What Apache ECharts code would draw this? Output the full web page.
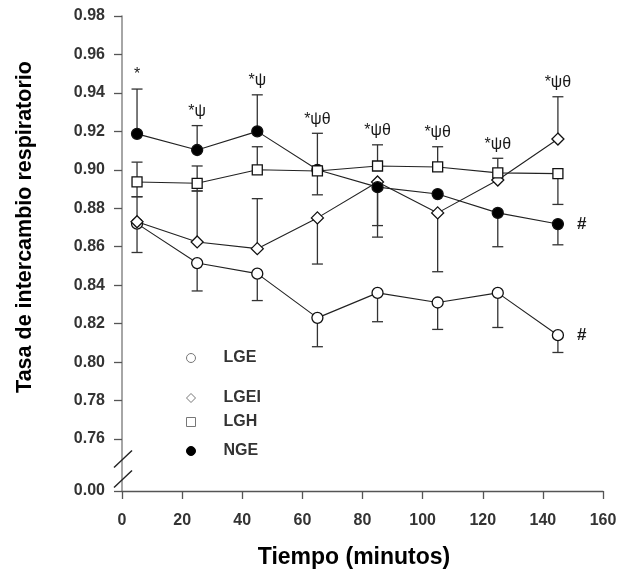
<!DOCTYPE html>
<html><head><meta charset="utf-8">
<script src="https://cdn.jsdelivr.net/npm/echarts@6/dist/echarts.min.js"></script>
<style>html,body{margin:0;padding:0;background:#fff}#c{width:620px;height:579px}</style>
</head><body><div id="c"></div>
<script>
// ---- data ----
const times = [5, 25, 45, 65, 85, 105, 125, 145];
const xTicks = [0, 20, 40, 60, 80, 100, 120, 140, 160];
const yTicks = [0.76, 0.78, 0.80, 0.82, 0.84, 0.86, 0.88, 0.90, 0.92, 0.94, 0.96, 0.98];
const yBreakLabel = '0.00';

const LGE    = [0.872, 0.8515, 0.846, 0.823, 0.836, 0.831, 0.836, 0.814];
const LGE_lo = [0.857, 0.837, 0.832, 0.808, 0.821, 0.817, 0.818, 0.805];
const LGE_hi = [null, null, null, null, null, null, null, null];

const LGEI    = [0.873, 0.8625, 0.859, 0.875, 0.8937, 0.8776, 0.8947, 0.916];
const LGEI_lo = [null, null, null, 0.851, 0.865, 0.847, null, null];
const LGEI_hi = [0.886, 0.889, 0.885, null, null, null, null, 0.938];

const LGH    = [0.8937, 0.893, 0.900, 0.8994, 0.902, 0.9015, 0.8984, 0.898];
const LGH_lo = [0.886, 0.889, null, 0.887, null, null, null, 0.882];
const LGH_hi = [0.904, 0.902, 0.912, null, 0.913, 0.912, 0.906, null];

const NGE    = [0.9187, 0.9103, 0.920, 0.900, 0.891, 0.8874, 0.8776, 0.8718];
const NGE_lo = [null, null, null, null, 0.871, null, 0.860, 0.861];
const NGE_hi = [0.942, 0.923, 0.939, 0.919, null, null, null, null];

const annotations = ['*', '*\u03C8', '*\u03C8', '*\u03C8\u03B8', '*\u03C8\u03B8', '*\u03C8\u03B8', '*\u03C8\u03B8', '*\u03C8\u03B8'];
const endNotes = { LGE: '#', NGE: '#' };
const legendOrder = ['LGE', 'LGEI', 'LGH', 'NGE'];
const xTitle = 'Tiempo (minutos)';
const yTitle = 'Tasa de intercambio respiratorio';

// ---- chart ----
const Y_MIN = 0.73296; // axis position shown as the broken "0.00"
const FONT = 'Arial, "Liberation Sans", sans-serif';
const INK = '#1a1a1a';
const LABEL_INK = '#333';

const groups = [
  { name: 'LGE', v: LGE, lo: LGE_lo, hi: LGE_hi, symbol: 'circle', size: 11, fill: '#fff' },
  { name: 'LGEI', v: LGEI, lo: LGEI_lo, hi: LGEI_hi, symbol: 'diamond', size: 12, fill: '#fff' },
  { name: 'NGE', v: NGE, lo: NGE_lo, hi: NGE_hi, symbol: 'circle', size: 11, fill: '#000' },
  { name: 'LGH', v: LGH, lo: LGH_lo, hi: LGH_hi, symbol: 'rect', size: 10, fill: '#fff' }
];

function errRender(params, api) {
  const x = api.value(0), y = api.value(1);
  const c = api.coord([x, y]);
  const cap = 5.5;
  const children = [];
  [api.value(2), api.value(3)].forEach(v => {
    if (v == null || isNaN(v) || Math.abs(v - y) < 1e-9) return;
    const p = api.coord([x, v]);
    children.push({ type: 'line', shape: { x1: c[0], y1: c[1], x2: p[0], y2: p[1] }, style: { stroke: '#333', lineWidth: 1.3 } });
    children.push({ type: 'line', shape: { x1: p[0] - cap, y1: p[1], x2: p[0] + cap, y2: p[1] }, style: { stroke: '#333', lineWidth: 1.3 } });
  });
  return { type: 'group', children };
}

const series = [];
groups.forEach(g => {
  series.push({
    type: 'custom', name: g.name + ' err', z: 1, silent: true,
    renderItem: errRender,
    data: times.map((t, i) => [t, g.v[i], g.lo[i] == null ? g.v[i] : g.lo[i], g.hi[i] == null ? g.v[i] : g.hi[i]])
  });
});
groups.forEach(g => {
  const data = times.map((t, i) => [t, g.v[i]]);
  if (endNotes[g.name]) {
    const last = data.length - 1;
    data[last] = {
      value: data[last],
      label: { show: true, formatter: endNotes[g.name], position: 'right', distance: 13, fontSize: 17, fontWeight: 'bold', color: INK, fontFamily: FONT }
    };
  }
  series.push({
    type: 'line', name: g.name, z: 3, data,
    symbol: g.symbol, symbolSize: g.size, showAllSymbol: true,
    lineStyle: { color: '#222', width: 1.1 },
    itemStyle: { color: g.fill, borderColor: '#111', borderWidth: 1.3 },
    emphasis: { disabled: true }
  });
});

// annotation above the highest error bar of each time point
const tops = times.map((t, i) => Math.max(...groups.map(g => Math.max(g.v[i], g.hi[i] == null ? -1 : g.hi[i]))));
series.push({
  type: 'custom', name: 'annot', z: 4, silent: true,
  renderItem: (params, api) => {
    const p = api.coord([api.value(0), api.value(1)]);
    return { type: 'text', x: p[0], y: p[1] - 6,
      style: { text: annotations[params.dataIndex], align: 'center', verticalAlign: 'bottom', fontSize: 16, fontFamily: FONT, fill: INK } };
  },
  data: times.map((t, i) => [t, tops[i]])
});

const legendTops = [345, 385, 409, 438];
const legendIcons = ['circle', 'diamond', 'rect', 'circle'];
const legendFill = ['#fff', '#fff', '#fff', '#000'];
const legends = legendOrder.map((n, i) => ({
  data: [{ name: n, icon: legendIcons[i], itemStyle: { color: legendFill[i], borderColor: legendFill[i] === '#000' ? '#000' : '#777', borderWidth: 1 } }],
  left: 181, top: legendTops[i], itemWidth: 9, itemHeight: 9, selectedMode: false,
  textStyle: { fontSize: 16, fontWeight: 'bold', color: LABEL_INK, fontFamily: FONT, padding: [0, 0, 0, 23] }
}));

const chart = echarts.init(document.getElementById('c'), null, { renderer: 'canvas' });
chart.setOption({
  animation: false,
  backgroundColor: '#fff',
  grid: { left: 122, right: 17, top: 16, bottom: 88, outerBoundsMode: 'none' },
  legend: legends,
  xAxis: {
    type: 'value', min: 0, max: 160, interval: 20,
    name: xTitle, nameLocation: 'middle', nameGap: 55,
    nameTextStyle: { fontSize: 23, fontWeight: 'bold', color: '#000', fontFamily: FONT, padding: [0, 17, 0, 0] },
    axisLine: { show: true, lineStyle: { color: '#555', width: 1.3 } },
    axisTick: { show: true, length: 8, inside: false, lineStyle: { color: '#555', width: 1.3 } },
    axisLabel: { fontSize: 16, fontWeight: 'bold', color: LABEL_INK, margin: 22, fontFamily: FONT },
    splitLine: { show: false }
  },
  yAxis: {
    type: 'value', min: Y_MIN, max: 0.98,
    axisLine: { show: true, lineStyle: { color: '#888', width: 1.5 } },
    axisTick: { show: true, length: 8, customValues: [Y_MIN].concat(yTicks), lineStyle: { color: '#555', width: 1.3 } },
    axisLabel: { fontSize: 16, fontWeight: 'bold', color: LABEL_INK, margin: 17, fontFamily: FONT,
      customValues: [Y_MIN].concat(yTicks),
      formatter: v => v < yTicks[0] - 0.005 ? yBreakLabel : v.toFixed(2) },
    splitLine: { show: false }
  },
  series
});

// axis break marks + rotated y-axis title, positioned from the axis scales
const p076 = chart.convertToPixel({ gridIndex: 0 }, [0, yTicks[0]]);
const pMin = chart.convertToPixel({ gridIndex: 0 }, [0, Y_MIN]);
const slash = (cx, cy) => ({ type: 'line', shape: { x1: cx - 9, y1: cy + 8.5, x2: cx + 9, y2: cy - 8.5 }, style: { stroke: '#222', lineWidth: 1.4 }, z: 10 });
chart.setOption({
  graphic: [
    slash(p076[0] + 1, p076[1] + 20),
    slash(pMin[0] + 1, pMin[1] - 12),
    { type: 'text', x: 25, y: 227, rotation: Math.PI / 2,
      style: { text: yTitle, align: 'center', verticalAlign: 'middle', font: 'bold 21.5px ' + FONT, fill: '#000' } }
  ]
});
</script>
</body></html>
